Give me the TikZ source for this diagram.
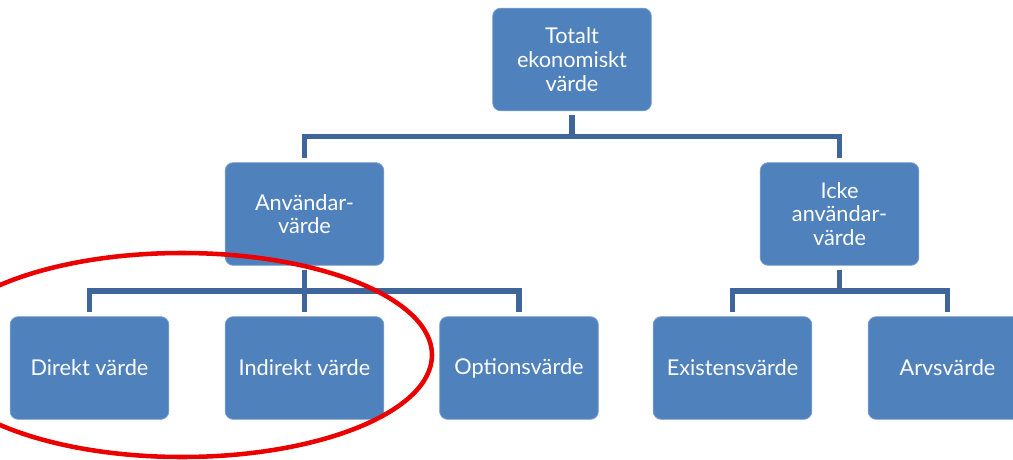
\documentclass[tikz,border=0pt]{standalone}
\usepackage{fontspec}
\setmainfont{Lato}
\usetikzlibrary{calc}
\definecolor{boxblue}{RGB}{79,129,189}
\definecolor{boxedge}{RGB}{125,160,206}
\definecolor{linkblue}{RGB}{62,102,155}
\definecolor{ringred}{RGB}{235,0,0}
\tikzset{
  box/.style={rectangle, rounded corners=6pt, fill=boxblue, draw=boxedge, line width=0.6pt,
    minimum width=119pt, minimum height=77pt, inner sep=0pt, text=white,
    font=\fontsize{16.3}{17.8}\selectfont, align=center},
  conn/.style={draw=linkblue, line width=3.8pt, shorten <=3pt, shorten >=3pt},
  ring/.style={draw=ringred, line width=3.4pt}
}
\begin{document}
\begin{tikzpicture}[x=0.75pt,y=-0.75pt]
\clip (0,0) rectangle (1013,460);
\fill[white] (0,0) rectangle (1013,460);
\node[box] (top) at (572,59.5) {Totalt\\ekonomiskt\\värde};
\node[box] (user) at (304.5,214) {Användar-\\värde};
\node[box] (nonuser) at (839.5,214) {Icke\\användar-\\värde};
\node[box] (direkt) at (89.5,368) {Direkt värde};
\node[box] (indirekt) at (304.5,368) {Indirekt värde};
\node[box] (option) at (519,368) {Optionsvärde};
\node[box] (exist) at (732.5,368) {Existensvärde};
\node[box] (arv) at (947.5,368) {Arvsvärde};
\coordinate (h0) at ($(top.south)!0.5!(top.south|-user.north)$);
\coordinate (h1) at ($(user.south)!0.5!(user.south|-direkt.north)$);
\coordinate (h2) at ($(nonuser.south)!0.5!(nonuser.south|-exist.north)$);
\draw[conn] (top.south) -- (h0) -| (user.north);
\draw[conn] (top.south) -- (h0) -| (nonuser.north);
\draw[conn] (user.south) -- (h1) -| (direkt.north);
\draw[conn] (user.south) -- (indirekt.north);
\draw[conn] (user.south) -- (h1) -| (option.north);
\draw[conn] (nonuser.south) -- (h2) -| (exist.north);
\draw[conn] (nonuser.south) -- (h2) -| (arv.north);
\draw[ring] (182,355) ellipse [x radius=250, y radius=102];
\end{tikzpicture}
\end{document}
